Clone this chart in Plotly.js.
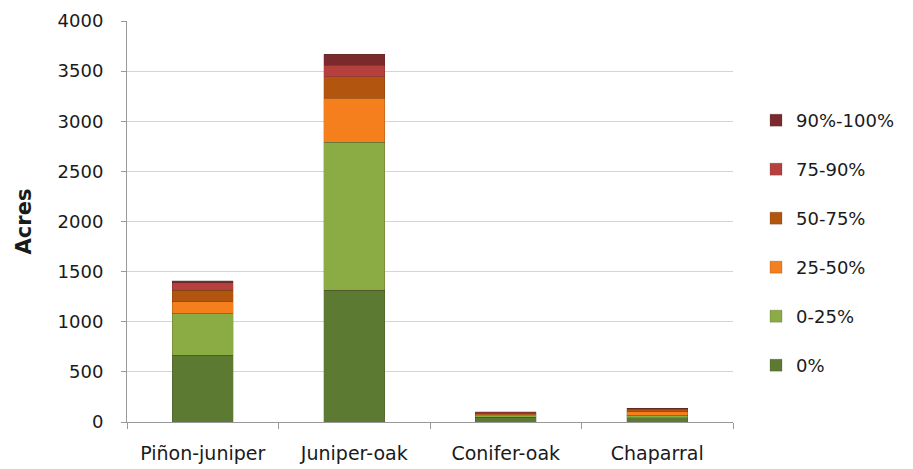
<!DOCTYPE html>
<html><head><meta charset="utf-8">
<script src="https://cdn.plot.ly/plotly-3.0.1.min.js"></script>
<style>html,body{margin:0;padding:0;background:#fff}#c{width:913px;height:469px}</style>
</head><body><div id="c"></div>
<script>
const categories = ["Piñon-juniper", "Juniper-oak", "Conifer-oak", "Chaparral"];
const seriesNames = ["0%", "0-25%", "25-50%", "50-75%", "75-90%", "90%-100%"];
const s0   = [668, 1316, 45, 40];
const s25  = [415, 1476, 15, 25];
const s50  = [116, 435, 15, 35];
const s75  = [117, 216, 10, 20];
const s90  = [75, 116, 10, 12];
const s100 = [20, 110, 5, 4];
const seriesValues = [s0, s25, s50, s75, s90, s100];
const colors = ["#5c7a32", "#8bab45", "#f47f1c", "#b2560f", "#b5403e", "#7a2a2c"];

const traces = seriesNames.map((n, i) => ({
  type: "bar", name: n, x: categories, y: seriesValues[i],
  marker: {color: colors[i], line: {color: "rgba(60,40,30,0.35)", width: 0.6}},
  legendgroup: "g" + i, legendrank: 100 - i
}));

const FONT = "DejaVu Sans, sans-serif";
const layout = {
  width: 913, height: 469,
  margin: {l: 127, r: 180, t: 21, b: 47},
  paper_bgcolor: "#fff", plot_bgcolor: "#fff",
  barmode: "stack", bargap: 0.6,
  font: {family: FONT, color: "#1a1a1a"},
  xaxis: {
    type: "category", tickson: "boundaries", ticks: "outside", ticklen: 6,
    tickcolor: "#999", showline: true, linecolor: "#999", linewidth: 1,
    tickfont: {size: 19, color: "#1a1a1a"}, showgrid: false, ticklabelstandoff: 14
  },
  yaxis: {
    range: [0, 4000], dtick: 500, ticks: "outside", ticklen: 5, tickcolor: "#999",
    showline: true, linecolor: "#999", linewidth: 1,
    gridcolor: "#d4d4d4", gridwidth: 1, zeroline: false,
    tickfont: {size: 18, color: "#1a1a1a"}, ticklabelstandoff: 14,
    title: {text: "<b>Acres</b>", font: {size: 21, color: "#1a1a1a"}, standoff: 20}
  },
  legend: {
    x: 1.038, xanchor: "left", y: 0.798, yanchor: "top",
    traceorder: "grouped", tracegroupgap: 22.6,
    font: {size: 18, color: "#1a1a1a"}, itemwidth: 30
  },
  showlegend: true
};
Plotly.newPlot("c", traces, layout, {displayModeBar: false, staticPlot: true});
</script></body></html>
